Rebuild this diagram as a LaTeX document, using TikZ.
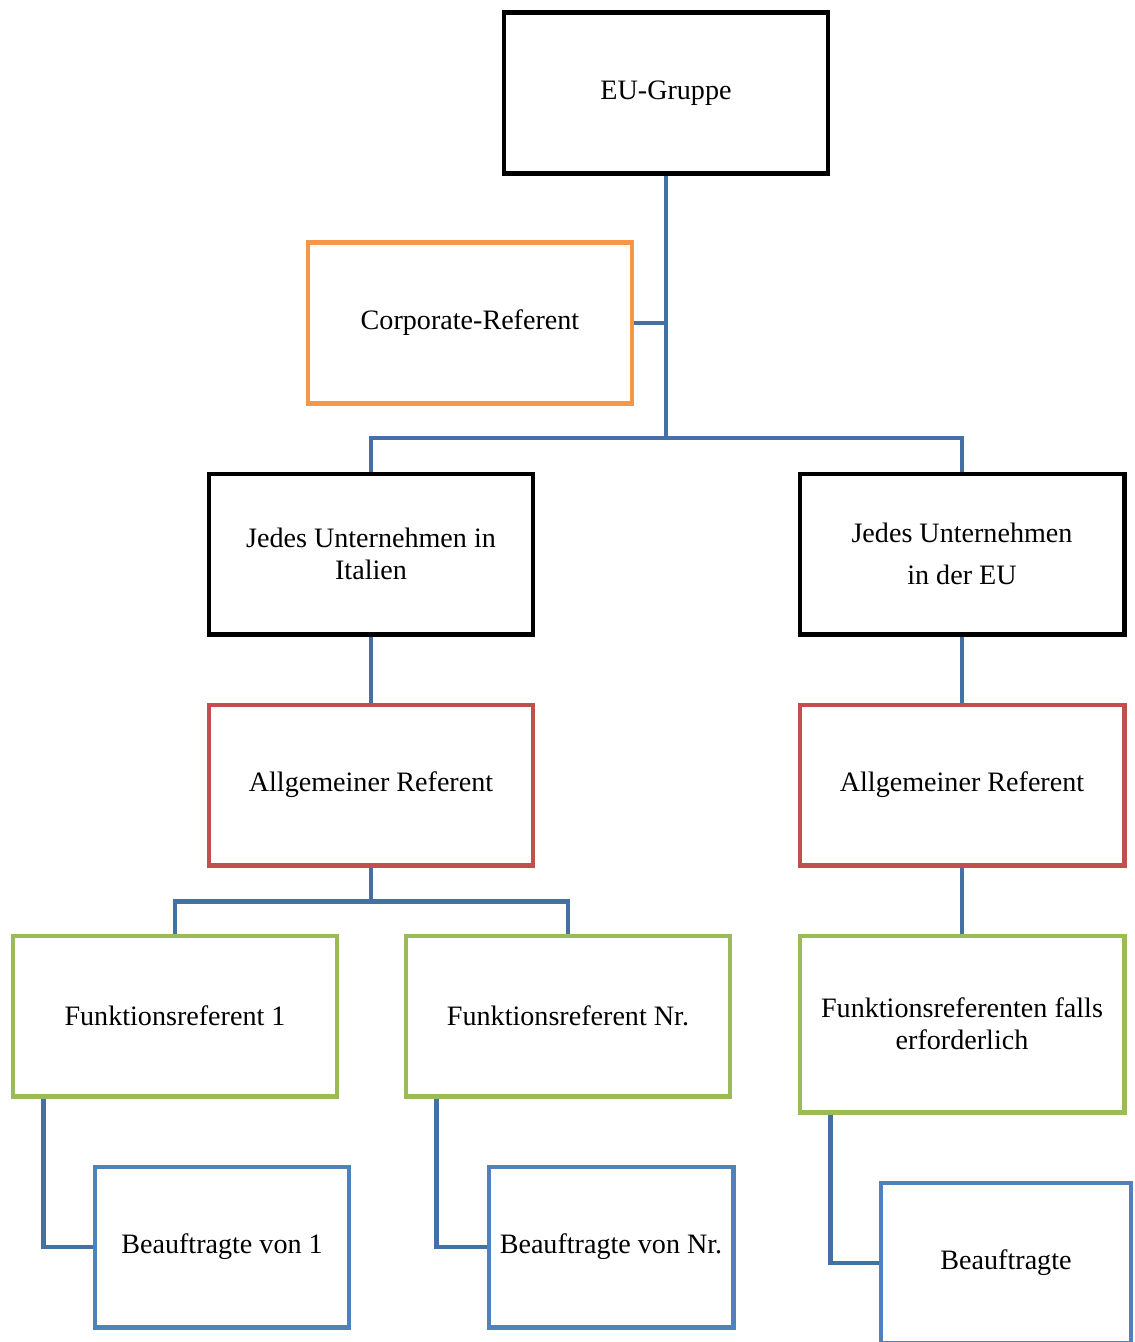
\documentclass[tikz,border=0pt]{standalone}
\usepackage{fontspec}
\setmainfont{Liberation Serif}
\definecolor{boxorange}{HTML}{F79646}
\definecolor{boxred}{HTML}{C0504D}
\definecolor{boxgreen}{HTML}{9BBB59}
\definecolor{boxblue}{HTML}{4F81BD}
\definecolor{connblue}{RGB}{68,112,166}
\begin{document}
\begin{tikzpicture}[x=0.02cm,y=-0.02cm]
        \tikzset{
            orgbox/.style={rectangle,draw=black,line width=2.3pt,fill=white,
                minimum width=6.5cm,minimum height=3.22cm,align=center,
                font=\fontsize{16}{18}\selectfont},
            smallbox/.style={orgbox,minimum width=5.1cm},
            conn/.style={draw=connblue,line width=2.8pt}
        }
        \useasboundingbox (0,0) rectangle (1135,1342);

        \coordinate (bus) at (666,438);

        \node[orgbox] (eu) at (666,93) {EU-Gruppe};
        \node[orgbox,draw=boxorange] (corp) at (470,323) {Corporate-Referent};

        \node[orgbox] (ita) at (371,554) {Jedes Unternehmen in\\Italien};
        \node[orgbox,font=\fontsize{16}{24}\selectfont] (eur) at (962,554) {Jedes Unternehmen\\in der EU};

        \node[orgbox,draw=boxred] (allgita) at (371,785) {Allgemeiner Referent};
        \node[orgbox,draw=boxred] (allgeu) at (962,785) {Allgemeiner Referent};

        \node[orgbox,draw=boxgreen] (funk1) at (175,1016) {Funktionsreferent 1};
        \node[orgbox,draw=boxgreen] (funknr) at (568,1016) {Funktionsreferent Nr.};
        \node[orgbox,draw=boxgreen,minimum height=3.54cm] (funkeu) at (962,1024) {Funktionsreferenten falls\\erforderlich};

        \node[smallbox,draw=boxblue] (bea1) at (222,1247) {Beauftragte von 1};
        \node[smallbox,draw=boxblue,minimum width=4.9cm] (beanr) at (611,1247) {Beauftragte von Nr.};
        \node[smallbox,draw=boxblue,minimum width=5.0cm] (beaeu) at (1006,1263) {Beauftragte};

        \draw[conn] (eu.south) -- (bus);
        \draw[conn] (corp.east) -- (corp.east -| bus);
        \draw[conn] (ita.north) |- (bus) -| (eur.north);
        \draw[conn] (ita.south) -- (allgita.north);
        \draw[conn] (eur.south) -- (allgeu.north);
        \draw[conn] (allgita.south) -- ++(0,34) -| (funk1.north);
        \draw[conn] (allgita.south) -- ++(0,34) -| (funknr.north);
        \draw[conn] (allgeu.south) -- (funkeu.north);
        \draw[conn] ([xshift=0.66cm]funk1.south west) |- (bea1.west);
        \draw[conn] ([xshift=0.66cm]funknr.south west) |- (beanr.west);
        \draw[conn] ([xshift=0.66cm]funkeu.south west) |- (beaeu.west);

    \end{tikzpicture}
\end{document}
